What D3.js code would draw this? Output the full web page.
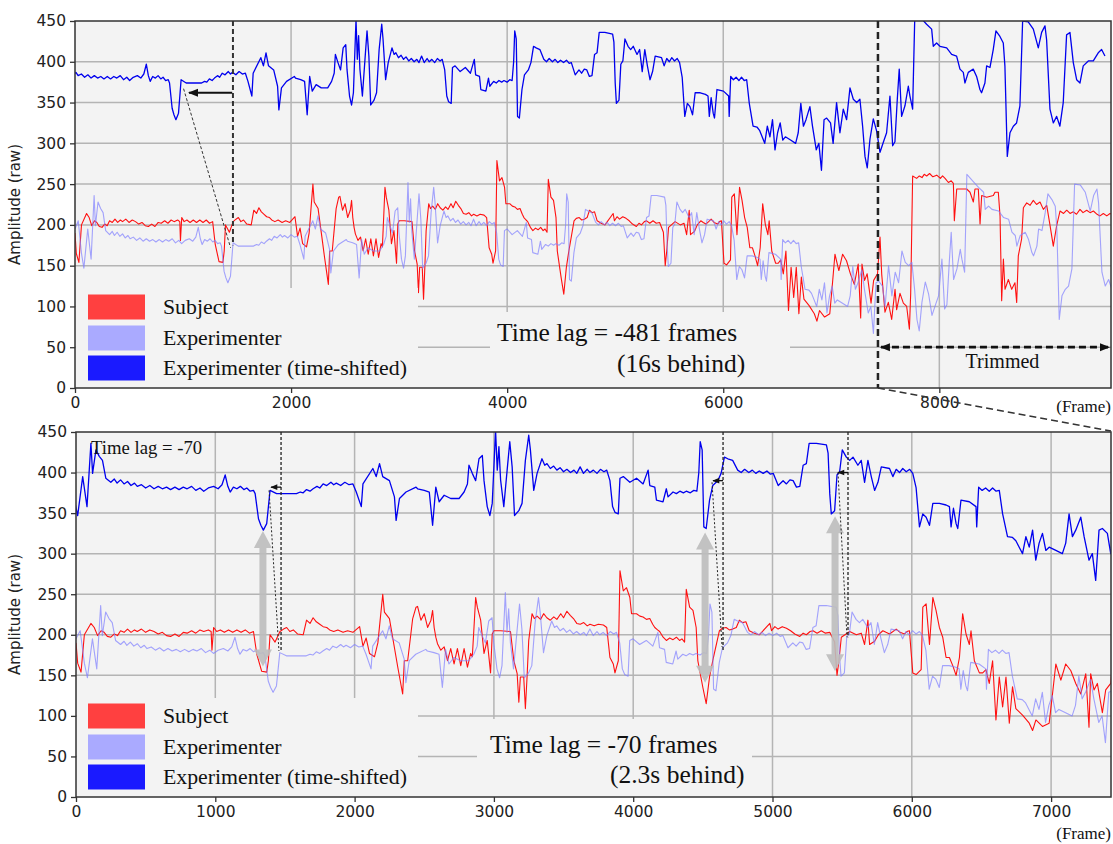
<!DOCTYPE html>
<html><head><meta charset="utf-8">
<script src="https://cdn.jsdelivr.net/npm/d3@7"></script>
<style>body{margin:0;background:#fff} svg{display:block}</style>
</head><body>
<svg id="c" width="1113" height="844"></svg>
<script>
// ---------- DATA (frame, amplitude) ----------
const subject = [[0,190],[12,165],[36,154],[60,200],[107,214],[131,209],[155,199],[180,205],[202,203],[225,198],[250,197],[275,201],[298,199],[320,205],[345,203],[370,207],[395,203],[420,206],[440,204],[470,207],[500,203],[530,206],[560,204],[590,201],[620,203],[650,199],[679,198],[710,201],[740,198],[770,203],[798,202],[830,205],[860,202],[890,206],[917,204],[950,206],[970,204],[976,181],[988,209],[1010,204],[1036,206],[1065,203],[1095,206],[1125,203],[1155,206],[1185,203],[1215,206],[1245,202],[1274,204],[1298,176],[1333,155],[1369,154],[1381,168],[1393,200],[1429,191],[1464,204],[1490,207],[1512,209],[1535,204],[1560,206],[1590,201],[1631,200],[1655,218],[1680,214],[1702,221],[1725,216],[1750,213],[1774,210],[1800,209],[1821,206],[1850,204],[1880,206],[1917,203],[1950,205],[1988,203],[2036,210],[2060,186],[2083,196],[2107,177],[2143,173],[2167,190],[2202,250],[2214,228],[2250,220],[2286,184],[2310,160],[2345,127],[2357,168],[2381,168],[2417,220],[2441,234],[2452,235],[2476,218],[2500,226],[2524,209],[2548,218],[2560,230],[2571,209],[2583,197],[2595,189],[2619,181],[2643,185],[2667,168],[2690,183],[2714,164],[2738,183],[2762,162],[2786,183],[2810,160],[2833,177],[2845,173],[2857,209],[2869,246],[2881,234],[2905,218],[2929,177],[2952,193],[2976,153],[2988,201],[3000,205],[3048,205],[3119,204],[3143,168],[3167,152],[3179,117],[3190,148],[3214,148],[3226,109],[3238,148],[3250,193],[3274,226],[3290,220],[3310,223],[3335,219],[3357,226],[3380,221],[3405,218],[3430,222],[3452,219],[3480,226],[3500,221],[3524,229],[3548,224],[3571,220],[3595,214],[3620,213],[3645,215],[3670,211],[3690,213],[3720,211],[3750,213],[3786,212],[3810,209],[3833,172],[3857,164],[3869,153],[3893,168],[3905,279],[3929,254],[3952,258],[3976,246],[3988,226],[4024,226],[4048,223],[4071,222],[4095,219],[4119,220],[4140,213],[4155,209],[4175,206],[4190,204],[4215,197],[4238,193],[4262,196],[4286,194],[4310,197],[4333,193],[4350,195],[4369,191],[4381,256],[4405,234],[4429,230],[4452,209],[4464,168],[4500,135],[4524,115],[4548,148],[4571,168],[4619,205],[4640,208],[4667,209],[4690,206],[4714,207],[4740,209],[4762,218],[4785,215],[4809,216],[4833,205],[4870,202],[4905,200],[4981,214],[4993,205],[5017,210],[5040,207],[5070,210],[5100,208],[5130,205],[5160,201],[5196,198],[5220,202],[5243,200],[5270,204],[5291,205],[5320,202],[5350,205],[5380,202],[5411,203],[5446,191],[5463,150],[5477,168],[5494,197],[5554,204],[5602,200],[5637,202],[5661,188],[5685,218],[5697,188],[5733,192],[5760,200],[5792,205],[5815,203],[5840,201],[5865,204],[5888,207],[5915,203],[5948,201],[5965,204],[5983,205],[6007,153],[6031,151],[6067,157],[6079,234],[6103,238],[6127,188],[6151,246],[6174,230],[6198,209],[6222,197],[6246,172],[6270,172],[6294,162],[6318,150],[6342,172],[6365,226],[6389,201],[6413,188],[6425,205],[6449,168],[6485,153],[6509,153],[6532,157],[6556,140],[6580,168],[6604,95],[6628,148],[6652,111],[6676,148],[6700,91],[6723,136],[6747,109],[6795,101],[6843,91],[6867,82],[6891,95],[6938,87],[6986,91],[7010,127],[7034,164],[7070,144],[7105,164],[7141,156],[7177,140],[7213,127],[7249,152],[7272,86],[7284,152],[7308,132],[7332,140],[7368,104],[7392,132],[7428,140],[7451,185],[7467,139],[7497,93],[7528,105],[7559,84],[7590,121],[7605,96],[7636,116],[7667,104],[7698,100],[7723,72],[7735,116],[7753,260],[7790,257],[7815,260],[7840,258],[7860,262],[7883,260],[7910,263],[7940,259],[7976,261],[8010,257],[8030,260],[8053,257],[8084,252],[8110,254],[8130,251],[8139,205],[8161,244],[8253,244],[8284,240],[8315,228],[8330,244],[8361,244],[8377,201],[8392,236],[8438,234],[8500,236],[8515,240],[8546,240],[8562,211],[8577,107],[8593,158],[8608,121],[8639,133],[8670,121],[8700,129],[8716,105],[8731,162],[8762,183],[8778,221],[8809,227],[8840,224],[8870,230],[8900,225],[8932,228],[8963,219],[8994,224],[9025,199],[9055,174],[9086,199],[9117,217],[9150,214],[9179,218],[9210,214],[9240,216],[9270,213],[9302,219],[9330,215],[9364,218],[9395,215],[9426,217],[9460,213],[9487,211],[9518,214],[9550,211],[9580,214],[9611,212]];

const experimenter = [[0,195],[30,205],[60,165],[82,147],[118,195],[149,158],[177,236],[189,199],[213,228],[237,220],[260,215],[284,193],[320,188],[345,192],[365,187],[390,191],[415,186],[440,189],[465,184],[490,187],[510,183],[540,185],[570,181],[600,184],[630,180],[660,183],[690,180],[720,182],[749,179],[780,182],[810,179],[840,182],[868,180],[900,183],[930,178],[960,181],[987,177],[1020,181],[1058,183],[1090,180],[1118,185],[1141,197],[1160,183],[1177,176],[1200,182],[1225,180],[1250,183],[1275,179],[1296,181],[1320,177],[1344,178],[1356,174],[1380,143],[1397,135],[1415,129],[1439,137],[1463,178],[1510,174],[1653,174],[1680,176],[1701,175],[1725,179],[1750,177],[1772,180],[1800,183],[1820,181],[1844,186],[1870,184],[1900,188],[1920,185],[1939,187],[1970,184],[2000,188],[2030,185],[2058,186],[2082,176],[2118,158],[2130,186],[2201,205],[2225,195],[2249,211],[2272,195],[2320,190],[2356,170],[2368,141],[2392,168],[2439,176],[2511,182],[2522,180],[2570,178],[2606,176],[2630,135],[2653,182],[2677,164],[2713,172],[2760,168],[2820,168],[2856,176],[2880,186],[2891,209],[2915,199],[2939,190],[2963,217],[2987,221],[2999,190],[3022,158],[3041,147],[3058,162],[3082,252],[3094,203],[3106,232],[3118,191],[3141,158],[3165,203],[3184,238],[3201,207],[3218,147],[3249,153],[3272,162],[3296,215],[3320,246],[3332,228],[3356,178],[3380,199],[3415,217],[3435,209],[3451,211],[3475,205],[3499,208],[3522,203],[3545,206],[3570,201],[3594,204],[3620,200],[3645,203],[3665,199],[3689,207],[3713,199],[3740,204],[3760,200],[3784,203],[3810,199],[3835,204],[3860,201],[3880,203],[3903,190],[3922,158],[3939,151],[3963,149],[3975,193],[3999,195],[4046,188],[4094,193],[4141,186],[4177,203],[4189,184],[4225,182],[4237,166],[4284,164],[4308,180],[4320,170],[4356,176],[4380,174],[4405,177],[4430,175],[4451,177],[4480,175],[4505,178],[4527,177],[4541,200],[4551,238],[4565,228],[4577,133],[4594,131],[4618,166],[4641,184],[4677,190],[4701,199],[4725,219],[4749,217],[4784,215],[4820,203],[4845,200],[4870,204],[4900,200],[4925,203],[4950,199],[4975,202],[5003,199],[5030,202],[5055,198],[5075,199],[5111,184],[5146,190],[5170,186],[5195,191],[5218,190],[5242,182],[5266,183],[5290,209],[5313,211],[5333,236],[5385,236],[5457,234],[5469,224],[5481,174],[5492,149],[5516,153],[5533,197],[5552,201],[5571,228],[5600,219],[5624,215],[5648,219],[5683,209],[5707,215],[5731,188],[5755,215],[5779,195],[5803,178],[5827,188],[5851,207],[5910,205],[5934,195],[5958,204],[5982,200],[6005,205],[6030,201],[6055,204],[6077,199],[6101,181],[6125,133],[6149,149],[6173,145],[6197,135],[6221,162],[6268,162],[6316,160],[6340,158],[6352,133],[6369,156],[6388,137],[6400,131],[6423,166],[6483,164],[6531,158],[6536,133],[6550,182],[6575,178],[6600,181],[6626,177],[6650,181],[6675,177],[6698,178],[6722,149],[6757,121],[6793,120],[6817,116],[6841,108],[6865,100],[6889,121],[6913,108],[6937,129],[6960,92],[6984,113],[7008,125],[7032,104],[7056,108],[7104,104],[7151,100],[7175,113],[7199,149],[7223,121],[7247,129],[7283,145],[7307,121],[7342,92],[7366,100],[7390,67],[7414,129],[7438,131],[7474,125],[7498,100],[7530,150],[7561,113],[7592,142],[7623,129],[7654,168],[7685,154],[7716,150],[7746,154],[7771,121],[7793,84],[7814,70],[7839,105],[7870,130],[7901,115],[7932,89],[7962,101],[7993,113],[8024,158],[8049,97],[8070,102],[8092,154],[8110,191],[8132,133],[8163,146],[8194,170],[8209,158],[8234,142],[8255,262],[8302,255],[8363,246],[8410,240],[8425,219],[8456,223],[8487,219],[8549,217],[8595,209],[8641,207],[8672,191],[8703,187],[8718,174],[8749,187],[8795,191],[8826,182],[8857,166],[8872,162],[8903,174],[8919,195],[8950,193],[8980,215],[9005,238],[9042,231],[9073,223],[9088,195],[9110,84],[9135,113],[9166,121],[9196,125],[9227,146],[9252,250],[9304,249],[9351,240],[9397,217],[9428,236],[9459,244],[9474,227],[9505,142],[9536,125],[9567,133],[9597,121],[9628,150],[9659,233],[9690,236],[9721,199],[9752,178],[9783,174],[9813,195],[9860,201],[9906,201],[9952,211],[9983,215],[10014,207]];

const lagTop = 481;        // frames
const lagBottom = 70;      // frames
const shiftOffset = 200;   // vertical offset of time-shifted trace
const trimFrame = 7432;
const yTicks = [0,50,100,150,200,250,300,350,400,450];
const xTicksTop = [0,2000,4000,6000,8000];
const xTicksBottom = [0,1000,2000,3000,4000,5000,6000,7000];
const legendLabels = ["Subject","Experimenter","Experimenter (time-shifted)"];
const legendColors = ["#ff4040","#aaaaff","#1a1aff"];
const lagTextTop = ["Time lag = -481 frames","(16s behind)"];
const lagTextBottom = ["Time lag = -70 frames","(2.3s behind)"];

// ---------- DRAWING ----------
const svg = d3.select("#c");
const defs = svg.append("defs");
defs.append("marker").attr("id","ah").attr("viewBox","0 0 10 10").attr("refX",9).attr("refY",5)
  .attr("markerWidth",10).attr("markerHeight",10).attr("markerUnits","userSpaceOnUse").attr("orient","auto-start-reverse")
  .append("path").attr("d","M0,1 L10,5 L0,9 Z").attr("fill","#111");
defs.append("marker").attr("id","ahs").attr("viewBox","0 0 10 10").attr("refX",9).attr("refY",5)
  .attr("markerWidth",8).attr("markerHeight",7).attr("markerUnits","userSpaceOnUse").attr("orient","auto-start-reverse")
  .append("path").attr("d","M0,1 L10,5 L0,9 Z").attr("fill","#111");

const SERIF = "'Liberation Serif','Times New Roman',serif";
const SANS = "'DejaVu Sans',sans-serif";

function panel(o) {
  const x = d3.scaleLinear().domain([0, o.xMax]).range([o.left, o.right]);
  const y = d3.scaleLinear().domain([0, 450]).range([o.bottom, o.top]);
  const g = svg.append("g");
  defs.append("clipPath").attr("id", o.id).append("rect")
    .attr("x", o.left).attr("y", o.top).attr("width", o.right - o.left).attr("height", o.bottom - o.top);
  g.append("rect").attr("x", o.left).attr("y", o.top).attr("width", o.right - o.left).attr("height", o.bottom - o.top).attr("fill", "#f3f3f3");
  const grid = g.append("g").attr("stroke", "#b4b4b4").attr("stroke-width", 1.5);
  grid.selectAll("line.h").data(yTicks.filter(d => d > 0 && d < 450)).join("line")
    .attr("x1", o.left).attr("x2", o.right).attr("y1", d => y(d)).attr("y2", d => y(d));
  grid.selectAll("line.v").data(o.ticks.filter(d => d > 0)).join("line").attr("class","v")
    .attr("y1", o.top).attr("y2", o.bottom).attr("x1", d => x(d)).attr("x2", d => x(d));

  const line = d3.line().x(d => x(d[0])).y(d => y(d[1]));
  const shifted = experimenter.map(d => [d[0] - o.lag, d[1] + shiftOffset]);
  const data = g.append("g").attr("clip-path", `url(#${o.id})`).attr("fill", "none").attr("stroke-linejoin","round");
  data.append("path").datum(subject).attr("d", line).attr("stroke", "#ff1010").attr("stroke-width", 1.1);
  data.append("path").datum(experimenter).attr("d", line).attr("stroke", "#7f7fff").attr("stroke-opacity", 0.7).attr("stroke-width", 1.1);
  data.append("path").datum(shifted).attr("d", line).attr("stroke", "#0000ee").attr("stroke-width", 1.3);

  // legend background + text background (cover grid)
  g.append("rect").attr("x", o.left + 1).attr("y", o.legendTop).attr("width", 417 - o.left).attr("height", o.bottom - o.legendTop)
    .attr("fill", "#f3f3f3");
  g.append("rect").attr("x", o.textBox[0]).attr("y", o.textBox[1]).attr("width", o.textBox[2] - o.textBox[0]).attr("height", o.bottom - o.textBox[1])
    .attr("fill", "#f3f3f3");
  const lg = g.append("g");
  legendLabels.forEach((lab, i) => {
    const cy = o.legendRows[i];
    lg.append("rect").attr("x", 88).attr("y", cy - 12.5).attr("width", 57).attr("height", 25).attr("fill", legendColors[i]);
    lg.append("text").attr("x", 163).attr("y", cy + 7).attr("font-family", SERIF).attr("font-size", 21.8).attr("fill", "#111").text(lab);
  });
  g.append("text").attr("x", o.lagText[0][0]).attr("y", o.lagText[0][1]).attr("font-family", SERIF).attr("font-size", 25.5).attr("fill","#111").text(o.lagLines[0]);
  g.append("text").attr("x", o.lagText[1][0]).attr("y", o.lagText[1][1]).attr("font-family", SERIF).attr("font-size", 25.5).attr("fill","#111").text(o.lagLines[1]);

  // frame
  g.append("rect").attr("x", o.left).attr("y", o.top).attr("width", o.right - o.left).attr("height", o.bottom - o.top)
    .attr("fill", "none").attr("stroke", "#333").attr("stroke-width", 1.5);

  // axes
  const ax = svg.append("g").attr("transform", `translate(0,${o.bottom})`)
    .call(d3.axisBottom(x).tickValues(o.ticks).tickFormat(d3.format("d")).tickSize(5).tickPadding(4));
  const ay = svg.append("g").attr("transform", `translate(${o.left},0)`)
    .call(d3.axisLeft(y).tickValues(yTicks).tickSize(5).tickPadding(4));
  [ax, ay].forEach(a => {
    a.select(".domain").remove();
    a.selectAll("line").attr("stroke", "#333").attr("stroke-width", 1.3);
    a.selectAll("text").attr("font-family", SANS).attr("font-size", 15.5).attr("fill", "#222");
  });
  svg.append("text").attr("transform", `translate(20,${(o.top + o.bottom) / 2}) rotate(-90)`).attr("text-anchor", "middle")
    .attr("font-family", SANS).attr("font-size", 15).attr("fill", "#222").text("Amplitude (raw)");
  svg.append("text").attr("x", 1111).attr("y", o.frameLabelY).attr("text-anchor", "end")
    .attr("font-family", SERIF).attr("font-size", 17).attr("fill", "#111").text("(Frame)");
  return {x, y, g};
}

const T = panel({id:"cT", left:75, right:1111, top:21, bottom:388, xMax:9589, lag:lagTop, ticks:xTicksTop, frameLabelY:412,
  legendTop:288, legendRows:[307,338,368], textBox:[490,312,790], lagLines:lagTextTop, lagText:[[497,341],[617,372]]});
const B = panel({id:"cB", left:76, right:1111, top:432, bottom:797, xMax:7430, lag:lagBottom, ticks:xTicksBottom, frameLabelY:839,
  legendTop:698, legendRows:[716,747,777], textBox:[477,719,752], lagLines:lagTextBottom, lagText:[[490,753],[610,783]]});

// ---------- ANNOTATIONS: top ----------
const at = svg.append("g").attr("fill","none");
at.append("line").attr("x1", T.x(1462)).attr("x2", T.x(1462)).attr("y1", T.y(450)).attr("y2", T.y(175))
  .attr("stroke","#333").attr("stroke-width",2).attr("stroke-dasharray","5,3");
at.append("line").attr("x1", T.x(1455)).attr("x2", T.x(1055)).attr("y1", T.y(362)).attr("y2", T.y(362))
  .attr("stroke","#111").attr("stroke-width",2).attr("marker-end","url(#ah)");
at.append("line").attr("x1", T.x(1005)).attr("x2", T.x(1440)).attr("y1", T.y(367)).attr("y2", T.y(172))
  .attr("stroke","#333").attr("stroke-width",1).attr("stroke-dasharray","3,2");
// trim
at.append("line").attr("x1", T.x(trimFrame)).attr("x2", T.x(trimFrame)).attr("y1", T.y(450)).attr("y2", T.y(0))
  .attr("stroke","#222").attr("stroke-width",2.5).attr("stroke-dasharray","7,4");
at.append("line").attr("x1", T.x(trimFrame)).attr("y1", T.y(0)).attr("x2", 1111).attr("y2", B.y(450) - 1)
  .attr("stroke","#333").attr("stroke-width",1.6).attr("stroke-dasharray","7,4");
at.append("line").attr("x1", T.x(trimFrame) + 3).attr("x2", 1109).attr("y1", T.y(50)).attr("y2", T.y(50))
  .attr("stroke","#111").attr("stroke-width",2.8).attr("stroke-dasharray","7,4")
  .attr("marker-start","url(#ah)").attr("marker-end","url(#ah)");
svg.append("text").attr("x", (T.x(trimFrame) + 1111) / 2 + 8).attr("y", T.y(24)).attr("text-anchor","middle")
  .attr("font-family", SERIF).attr("font-size", 20).attr("fill","#111").text("Trimmed");

// ---------- ANNOTATIONS: bottom ----------
svg.append("text").attr("x", 91).attr("y", 454).attr("font-family", SERIF).attr("font-size", 18.7).attr("fill","#111").text("Time lag = -70");
const marks = [
  {v:1472, vEnd:180, arrowY:382, arrowTo:1400, d0:[1386,378], d1:[1457,180], gx:1342, gTop:328, gBot:161},
  {v:4645, vEnd:181, arrowY:390, arrowTo:4573, d0:[4566,388], d1:[4638,185], gx:4516, gTop:326, gBot:141},
  {v:5542, vEnd:197, arrowY:400, arrowTo:5470, d0:[5470,400], d1:[5535,197], gx:5449, gTop:346, gBot:155}
];
const ab = svg.append("g").attr("fill","none");
marks.forEach(m => {
  const cx = B.x(m.gx), t = B.y(m.gTop), b = B.y(m.gBot);
  const sw = 3.5, hw = 9, hl = 17;
  const p = `M${cx},${t} L${cx+hw},${t+hl} L${cx+sw},${t+hl} L${cx+sw},${b-hl} L${cx+hw},${b-hl} L${cx},${b} L${cx-hw},${b-hl} L${cx-sw},${b-hl} L${cx-sw},${t+hl} L${cx-hw},${t+hl} Z`;
  ab.append("path").attr("d", p).attr("fill","#bdbdbd").attr("fill-opacity",0.9);
  ab.append("line").attr("x1", B.x(m.v)).attr("x2", B.x(m.v)).attr("y1", B.y(450)).attr("y2", B.y(m.vEnd))
    .attr("stroke","#222").attr("stroke-width",1.3).attr("stroke-dasharray","3,2");
  ab.append("line").attr("x1", B.x(m.d0[0])).attr("y1", B.y(m.d0[1])).attr("x2", B.x(m.d1[0])).attr("y2", B.y(m.d1[1]))
    .attr("stroke","#222").attr("stroke-width",1).attr("stroke-dasharray","2,2");
  ab.append("line").attr("x1", B.x(m.v)).attr("x2", B.x(m.arrowTo)).attr("y1", B.y(m.arrowY)).attr("y2", B.y(m.arrowY))
    .attr("stroke","#111").attr("stroke-width",1.3).attr("marker-end","url(#ahs)");
});
</script>
</body></html>
